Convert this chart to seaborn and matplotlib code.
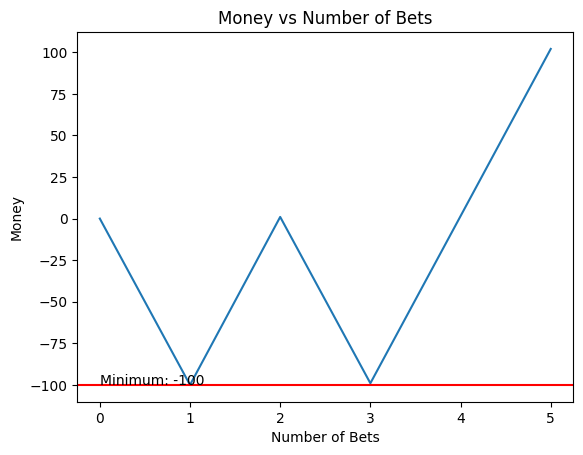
import matplotlib
matplotlib.use("Agg")
import matplotlib.pyplot as plt
import seaborn as sns
import pandas as pd

bets = [0, 1, 2, 3, 4, 5]
money = [0, -100, 1, -99, 1.5, 102]
minimum = -100

df = pd.DataFrame({"Number of Bets": bets, "Money": money})

fig, ax = plt.subplots(figsize=(6.4, 4.8), dpi=100)
sns.lineplot(data=df, x="Number of Bets", y="Money", ax=ax)
ax.axhline(minimum, color="red")
ax.text(0, minimum, f"Minimum: {minimum}")
ax.set_title("Money vs Number of Bets")
ax.set_xlabel("Number of Bets")
ax.set_ylabel("Money")
fig.savefig("out.png", bbox_inches="tight")
